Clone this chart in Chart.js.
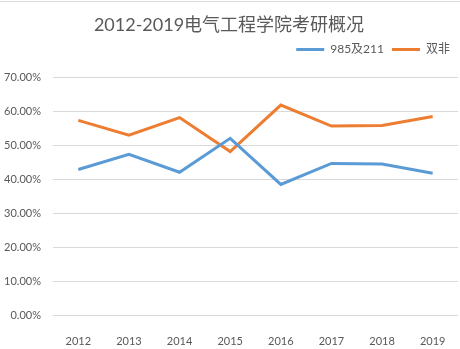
<!DOCTYPE html>
<html>
<head>
<meta charset="utf-8">
<script src="https://cdn.jsdelivr.net/npm/chart.js@4"></script>
<style>
  body { margin: 0; background: #fff; }
  #wrap { position: relative; width: 460px; height: 349px; }
  #topline { position: absolute; left: 0; top: 1px; width: 460px; height: 1px; background: #d9d9d9; }
</style>
</head>
<body>
<div id="wrap">
  <canvas id="chart" width="460" height="349"></canvas>
  <div id="topline"></div>
</div>
<script>
// chart data
const years = ['2012', '2013', '2014', '2015', '2016', '2017', '2018', '2019'];
const topSchools = [0.429, 0.474, 0.421, 0.521, 0.385, 0.447, 0.445, 0.418];
const nonTop = [0.574, 0.530, 0.582, 0.482, 0.619, 0.557, 0.559, 0.585];

const fontFamily = "Lato, 'Noto Sans CJK SC', sans-serif";
const grey = '#595959';

// extra room under the legend, like the excel layout
const legendGap = {
    id: 'legendGap',
    beforeInit(chart) {
        const fit = chart.legend.fit;
        chart.legend.fit = function() {
            fit.bind(chart.legend)();
            this.height += 12;
        };
    }
};

new Chart(document.getElementById('chart'), {
    type: 'line',
    data: {
        labels: years,
        datasets: [
            {
                label: '985及211',
                data: topSchools,
                borderColor: '#5B9BD5',
                backgroundColor: '#5B9BD5',
                borderWidth: 3,
                pointRadius: 0,
                tension: 0
            },
            {
                label: '双非',
                data: nonTop,
                borderColor: '#ED7D31',
                backgroundColor: '#ED7D31',
                borderWidth: 3,
                pointRadius: 0,
                tension: 0
            }
        ]
    },
    plugins: [legendGap],
    options: {
        responsive: false,
        animation: false,
        layout: { padding: { top: 14, right: 2, left: 0, bottom: 0 } },
        plugins: {
            title: {
                display: true,
                text: '2012-2019电气工程学院考研概况',
                color: grey,
                font: { family: fontFamily, size: 18, weight: 'normal' },
                padding: { top: 0, bottom: 0 }
            },
            legend: {
                align: 'end',
                labels: {
                    usePointStyle: true,
                    pointStyle: 'line',
                    pointStyleWidth: 28,
                    color: grey,
                    font: { family: fontFamily, size: 12 },
                    padding: 8
                }
            },
            tooltip: { enabled: false }
        },
        scales: {
            x: {
                offset: true,
                grid: { display: false },
                border: { display: false },
                afterFit: function(scale) { scale.height = 34; },
                ticks: { color: grey, font: { family: fontFamily, size: 11 }, padding: 12 }
            },
            y: {
                min: 0,
                max: 0.7,
                grid: { color: '#d9d9d9', drawTicks: false },
                border: { display: false },
                afterFit: function(scale) { scale.width = 53; },
                ticks: {
                    stepSize: 0.1,
                    color: grey,
                    padding: 12,
                    font: { family: fontFamily, size: 11 },
                    callback: v => (v * 100).toFixed(2) + '%'
                }
            }
        }
    }
});
</script>
</body>
</html>
